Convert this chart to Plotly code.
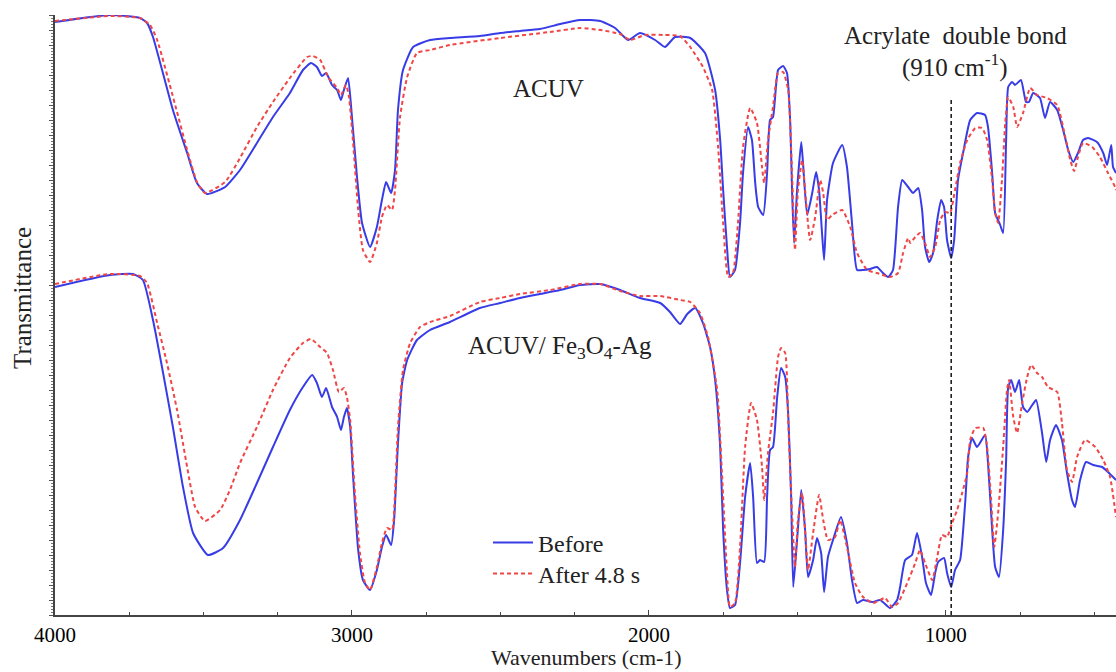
import plotly.graph_objects as go

# ---- ACUV (top) : Before (blue) ----
acuv_before_wn = [4000, 3815, 3714, 3690, 3670, 3603, 3555, 3522, 3488, 3427, 3377, 3320, 3266, 3209, 3165, 3138,
                  3118, 3101, 3087, 3067, 3050, 3037, 3027, 3013, 3000, 2983, 2966, 2939, 2916, 2899, 2885, 2868,
                  2855, 2845, 2828, 2794, 2737, 2670, 2569, 2501, 2434, 2367, 2299, 2232, 2164, 2114, 2070, 2030,
                  1979, 1946, 1912, 1861, 1811, 1777, 1760, 1750, 1737, 1727, 1710, 1693, 1683, 1666, 1653, 1642,
                  1632, 1615, 1602, 1592, 1582, 1565, 1548, 1535, 1524, 1518, 1511, 1501, 1487, 1481, 1467, 1450,
                  1437, 1427, 1417, 1410, 1400, 1380, 1349, 1333, 1316, 1299, 1279, 1255, 1232, 1215, 1194, 1178,
                  1161, 1147, 1127, 1110, 1093, 1080, 1070, 1056, 1043, 1029, 1016, 1006, 996, 982, 972, 959,
                  942, 918, 895, 868, 858, 844, 834, 817, 807, 797, 790, 777, 767, 747, 730, 720,
                  706, 683, 666, 649, 625, 605, 588, 571, 555, 538, 521, 491, 470, 457, 443, 437, 427]
acuv_before_t = [593, 600, 597, 592, 578, 505, 462, 432, 421, 428, 445, 472, 498, 522, 545, 552,
                 548, 539, 542, 530, 525, 515, 525, 537, 498, 438, 392, 368, 388, 415, 433, 422,
                 445, 505, 545, 568, 575, 577, 579, 582, 584, 586, 591, 595, 594, 587, 575, 582,
                 575, 568, 578, 577, 562, 525, 475, 425, 368, 338, 345, 392, 442, 488, 475, 432,
                 408, 400, 442, 495, 498, 545, 549, 542, 492, 425, 372, 425, 473, 452, 400, 422,
                 443, 425, 382, 355, 415, 452, 470, 448, 392, 345, 345, 346, 348, 343, 338, 345,
                 408, 435, 428, 422, 427, 405, 368, 353, 362, 395, 415, 408, 375, 357, 375, 435,
                 462, 495, 502, 500, 488, 442, 402, 390, 382, 475, 528, 533, 530, 535, 513, 513,
                 522, 517, 497, 513, 505, 485, 465, 453, 462, 475, 477, 473, 462, 450, 470, 448, 442]

# ---- ACUV (top) : After 4.8 s (red) ----
acuv_after_wn = [4000, 3815, 3714, 3680, 3656, 3589, 3555, 3522, 3495, 3427, 3377, 3320, 3266, 3209, 3151, 3131,
                 3107, 3080, 3050, 3037, 3020, 3010, 2996, 2979, 2963, 2939, 2916, 2899, 2882, 2865, 2855, 2838,
                 2814, 2781, 2737, 2670, 2501, 2333, 2232, 2164, 2097, 2063, 2013, 1946, 1895, 1861, 1818, 1787,
                 1767, 1750, 1733, 1717, 1700, 1683, 1659, 1636, 1619, 1612, 1599, 1582, 1565, 1548, 1531, 1518,
                 1508, 1498, 1484, 1474, 1457, 1440, 1423, 1413, 1400, 1383, 1349, 1322, 1299, 1265, 1232, 1188,
                 1161, 1144, 1127, 1120, 1103, 1087, 1070, 1053, 1036, 1019, 1002, 986, 969, 952, 928, 901,
                 878, 861, 844, 834, 824, 811, 800, 790, 773, 760, 740, 716, 693, 659, 625, 598,
                 581, 568, 555, 538, 507, 481, 454, 430, 427]
acuv_after_t = [594, 599, 597, 590, 575, 503, 465, 433, 422, 433, 457, 488, 513, 537, 558, 559,
                555, 538, 527, 520, 530, 518, 472, 405, 365, 353, 372, 398, 410, 405, 425, 498,
                538, 562, 565, 570, 577, 583, 587, 585, 581, 575, 580, 580, 579, 568, 548, 525,
                468, 392, 338, 342, 392, 468, 507, 492, 448, 432, 475, 508, 542, 543, 525, 442,
                365, 425, 455, 425, 375, 398, 435, 422, 395, 400, 405, 388, 362, 345, 342, 338,
                342, 362, 377, 372, 378, 382, 372, 358, 368, 395, 403, 402, 425, 452, 475, 487,
                487, 475, 435, 402, 392, 435, 492, 518, 508, 488, 502, 527, 520, 517, 510, 478,
                455, 444, 458, 472, 468, 458, 442, 428, 425]

# ---- ACUV/Fe3O4-Ag (bottom) : Before (blue) ----
comp_before_wn = [4000, 3815, 3737, 3704, 3670, 3636, 3603, 3569, 3535, 3485, 3434, 3377, 3320, 3266, 3209, 3165,
                  3134, 3118, 3101, 3087, 3067, 3050, 3037, 3027, 3017, 3006, 2996, 2979, 2963, 2939, 2916, 2899,
                  2885, 2868, 2858, 2845, 2831, 2814, 2781, 2737, 2670, 2569, 2501, 2434, 2367, 2299, 2232, 2164,
                  2097, 2030, 1962, 1929, 1895, 1871, 1844, 1818, 1794, 1777, 1760, 1750, 1737, 1727, 1710, 1693,
                  1676, 1659, 1649, 1636, 1626, 1612, 1602, 1592, 1582, 1568, 1555, 1541, 1531, 1521, 1514, 1501,
                  1487, 1474, 1464, 1447, 1434, 1420, 1410, 1397, 1380, 1353, 1333, 1316, 1299, 1279, 1248, 1221,
                  1188, 1164, 1154, 1137, 1114, 1097, 1080, 1067, 1050, 1036, 1026, 1006, 996, 982, 969, 952,
                  935, 925, 912, 895, 868, 858, 844, 834, 821, 807, 797, 790, 780, 767, 753, 740,
                  726, 709, 696, 676, 662, 649, 629, 609, 592, 575, 565, 548, 528, 504, 474, 454, 427]
comp_before_t = [328, 340, 341, 335, 295, 242, 188, 128, 82, 60, 67, 95, 132, 168, 205, 228,
                 240, 232, 218, 227, 208, 198, 185, 198, 207, 188, 138, 65, 35, 25, 45, 68,
                 80, 70, 95, 172, 232, 255, 275, 285, 293, 307, 312, 317, 321, 325, 330, 331,
                 325, 317, 312, 303, 291, 301, 307, 292, 268, 235, 168, 85, 25, 7, 10, 52,
                 118, 152, 118, 52, 55, 53, 118, 165, 168, 218, 247, 238, 202, 118, 28, 75,
                 125, 85, 38, 55, 77, 62, 23, 58, 75, 98, 72, 35, 12, 15, 13, 15,
                 7, 15, 28, 55, 60, 82, 58, 32, 20, 42, 53, 57, 42, 28, 45, 55,
                 112, 158, 177, 168, 180, 152, 85, 48, 38, 85, 155, 228, 235, 223, 235, 208,
                 203, 210, 215, 182, 153, 175, 190, 175, 142, 115, 108, 135, 153, 150, 148, 143, 135]

# ---- ACUV/Fe3O4-Ag (bottom) : After 4.8 s (red) ----
comp_after_wn = [4000, 3815, 3714, 3690, 3656, 3623, 3589, 3555, 3528, 3495, 3444, 3411, 3377, 3320, 3266, 3209,
                 3165, 3138, 3107, 3084, 3064, 3044, 3027, 3017, 3006, 2990, 2973, 2956, 2939, 2916, 2899, 2882,
                 2865, 2855, 2845, 2828, 2804, 2771, 2737, 2670, 2569, 2501, 2434, 2333, 2232, 2164, 2097, 2030,
                 1962, 1895, 1861, 1828, 1801, 1770, 1754, 1737, 1727, 1710, 1693, 1676, 1656, 1636, 1619, 1612,
                 1599, 1582, 1565, 1555, 1541, 1531, 1518, 1508, 1498, 1484, 1474, 1464, 1447, 1427, 1413, 1397,
                 1373, 1356, 1333, 1306, 1279, 1245, 1205, 1181, 1161, 1130, 1103, 1087, 1070, 1046, 1029, 1013,
                 996, 979, 962, 945, 928, 918, 901, 874, 861, 848, 837, 824, 807, 794, 787, 773,
                 760, 743, 726, 713, 693, 676, 656, 625, 609, 592, 575, 558, 531, 497, 470, 447, 427]
comp_after_t = [331, 341, 339, 332, 292, 252, 205, 148, 108, 94, 105, 125, 152, 188, 225, 257,
                272, 276, 268, 262, 245, 223, 227, 218, 195, 122, 62, 32, 25, 48, 72, 87,
                85, 122, 188, 245, 272, 288, 293, 299, 313, 317, 321, 325, 331, 331, 324, 319,
                319, 315, 313, 302, 278, 225, 142, 42, 8, 12, 68, 168, 212, 195, 148, 115,
                162, 202, 258, 267, 262, 195, 102, 48, 95, 122, 85, 45, 82, 120, 95, 75,
                78, 95, 68, 32, 18, 12, 17, 8, 12, 32, 52, 65, 52, 35, 58, 80,
                78, 92, 105, 122, 142, 175, 187, 187, 168, 118, 68, 102, 168, 225, 235, 198,
                182, 212, 238, 250, 242, 238, 228, 223, 192, 145, 133, 158, 175, 168, 155, 138, 98]

# ---- axis / annotation values ----
x_range = [4000, 427]
y_range = [0, 600]
x_tick_vals = [4000, 3000, 2000, 1000]
x_tick_text = ["4000", "3000", "2000", "1000"]
marker_wn = 982            # dashed marker line
marker_top = 515

BLUE = "rgb(55,60,230)"
RED = "rgb(240,70,70)"
FONT = "Liberation Serif, Times New Roman, serif"
TXT = "#222222"

line_b = dict(color=BLUE, width=2, shape="spline", smoothing=0.5)
line_r = dict(color=RED, width=2, dash="4px,3px", shape="spline", smoothing=0.5)

fig = go.Figure()
fig.add_trace(go.Scatter(x=acuv_before_wn, y=acuv_before_t, mode="lines", name="Before", line=line_b,
                         legend="legend"))
fig.add_trace(go.Scatter(x=acuv_after_wn, y=acuv_after_t, mode="lines", name="After 4.8 s", line=line_r,
                         legend="legend2"))
fig.add_trace(go.Scatter(x=comp_before_wn, y=comp_before_t, mode="lines", name="Before",
                         line=line_b, showlegend=False))
fig.add_trace(go.Scatter(x=comp_after_wn, y=comp_after_t, mode="lines", name="After 4.8 s",
                         line=line_r, showlegend=False))

fig.add_shape(type="line", xref="x", yref="y", x0=marker_wn, x1=marker_wn, y0=0, y1=marker_top,
              line=dict(color="#222222", width=1.6, dash="4px,3px"))

L, R, T, B = 55, 0, 15, 57
W, H = 1116, 672
pw, ph = W - L - R, H - T - B

annots = [
    (548, 88, "ACUV", 25),
    (560, 348, "ACUV/ Fe<sub>3</sub>O<sub>4</sub>-Ag", 25),
    (955, 35, "Acrylate  double bond", 25),
    (955, 66, "(910 cm<sup>-1</sup>)", 25),
    (586, 657, "Wavenumbers (cm-1)", 22),
]
for px, py, txt, fs in annots:
    fig.add_annotation(x=(px - L) / pw, y=(H - B - py) / ph, xref="paper", yref="paper", text=txt,
                       showarrow=False, xanchor="center", yanchor="middle",
                       font=dict(family=FONT, size=fs, color=TXT))
fig.add_annotation(x=(22 - L) / pw, y=(H - B - 298) / ph, xref="paper", yref="paper", text="Transmittance",
                   showarrow=False, textangle=-90, xanchor="center", yanchor="middle",
                   font=dict(family=FONT, size=25, color=TXT))

leg_common = dict(xanchor="left", yanchor="middle", bgcolor="rgba(0,0,0,0)",
                  font=dict(family=FONT, size=24, color=TXT), itemwidth=40)
fig.update_layout(
    width=W, height=H, margin=dict(l=L, r=R, t=T, b=B),
    paper_bgcolor="white", plot_bgcolor="white",
    showlegend=True,
    legend=dict(x=(488 - L) / pw, y=(H - B - 543) / ph, **leg_common),
    legend2=dict(x=(488 - L) / pw, y=(H - B - 574) / ph, **leg_common),
    xaxis=dict(range=x_range, tickvals=x_tick_vals, ticktext=x_tick_text, showgrid=False, zeroline=False,
               showline=True, linecolor="#444444", linewidth=1.5, ticks="inside", ticklen=5,
               tickcolor="#444444", tickfont=dict(family=FONT, size=21, color="black"),
               minor=dict(dtick=250, tick0=0, ticks="inside", ticklen=3, tickcolor="#444444")),
    yaxis=dict(range=y_range, showgrid=False, zeroline=False, showline=True, linecolor="#444444",
               linewidth=1.5, showticklabels=False, ticks="outside", ticklen=4, dtick=15, tick0=0,
               tickcolor="#555555",
               minor=dict(dtick=3, ticks="outside", ticklen=2, tickcolor="#777777")),
)

fig.write_html("out.html")
